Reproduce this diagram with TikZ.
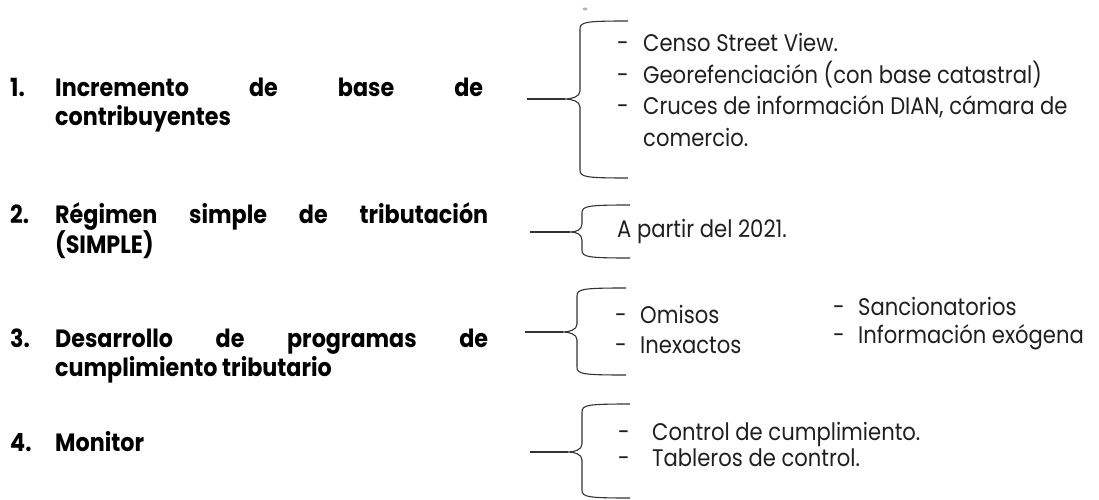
\documentclass[tikz,border=0pt]{standalone}
\usepackage{fontspec}
\setmainfont{Poppins}
\newfontfamily\leftfont[FakeStretch=0.89]{Poppins Bold}
\newfontfamily\rightfont[FakeStretch=0.88]{Poppins}
\begin{document}
\begin{tikzpicture}[x=1pt,y=-1pt,
  lefttxt/.style={anchor=base west,inner sep=0pt,font=\fontsize{25}{28}\leftfont,text=black},
  righttxt/.style={anchor=west,inner sep=0pt,text height=17pt,text depth=0pt,font=\fontsize{24}{28}\rightfont,text=black!88},
  bracepath/.style={draw=black!80,line width=1.1pt}]
\useasboundingbox (0,0) rectangle (1099,500);
\fill[black!30] (585,9) ellipse (2.5pt and 1.5pt);
% left column
\node[lefttxt] (n1) at (10,96) {1.};
\node[lefttxt] (t1a) at (55,96) {\makebox[428pt][s]{Incremento de base de}};
\node[lefttxt] (t1b) at (55,125) {contribuyentes};
\node[lefttxt] (n2) at (10,223) {2.};
\node[lefttxt] (t2a) at (55,223) {\makebox[433pt][s]{Régimen simple de tributación}};
\node[lefttxt] (t2b) at (55,253) {(SIMPLE)};
\node[lefttxt] (n3) at (10,347) {3.};
\node[lefttxt] (t3a) at (55,347) {\makebox[433pt][s]{Desarrollo de programas de}};
\node[lefttxt] (t3b) at (55,376) {cumplimiento tributario};
\node[lefttxt] (n4) at (10,451) {4.};
\node[lefttxt] (t4) at (55,451) {Monitor};
% braces: #1 left x, #2 tip x, #3 vertical x, #4 right x, #5 top y, #6 tip y, #7 bottom y
\newcommand{\mybrace}[8]{%
  \coordinate (#8L) at (#1,#6);
  \coordinate (#8T) at (#2,#6);
  \draw[bracepath] (#8L) -- (#8T);
  \draw[bracepath] (#4,#5) .. controls (#3+5,#5) and (#3,#5+1) .. (#3,#5+8)
     -- (#3,#6-8) .. controls (#3,#6-2) and (#2+6,#6) .. (#8T)
     .. controls (#2+6,#6) and (#3,#6+2) .. (#3,#6+8)
     -- (#3,#7-8) .. controls (#3,#7-1) and (#3+5,#7) .. (#4,#7);}
\mybrace{527}{565}{580}{628}{21}{99}{178}{b1}
\mybrace{530}{570}{582}{630}{205}{232}{258}{b2}
\mybrace{525}{563}{577}{626}{288}{332}{375}{b3}
\mybrace{530}{568}{582}{630}{404}{452}{498}{b4}
% brace 1 texts
\node[righttxt] (d1a) at (617,43) {-};
\node[righttxt] (r1a) at (643,43) {Censo Street View.};
\node[righttxt] (d1b) at (617,75) {-};
\node[righttxt] (r1b) at (643,75) {Georefenciación (con base catastral)};
\node[righttxt] (d1c) at (617,106) {-};
\node[righttxt] (r1c) at (643,106) {Cruces de información DIAN, cámara de};
\node[righttxt] (r1d) at (643,138) {comercio.};
% brace 2
\node[righttxt] (r2) at (617,229) {A partir del 2021.};
% brace 3
\node[righttxt] (d3a) at (615,315) {-};
\node[righttxt] (r3a) at (640,315) {Omisos};
\node[righttxt] (d3b) at (615,345) {-};
\node[righttxt] (r3b) at (640,345) {Inexactos};
\node[righttxt] (d3c) at (833,307) {-};
\node[righttxt] (r3c) at (858,307) {Sancionatorios};
\node[righttxt] (d3d) at (833,335) {-};
\node[righttxt] (r3d) at (858,335) {Información exógena};
% brace 4
\node[righttxt] (d4a) at (618,432) {-};
\node[righttxt] (r4a) at (652,432) {Control de cumplimiento.};
\node[righttxt] (d4b) at (618,458) {-};
\node[righttxt] (r4b) at (652,458) {Tableros de control.};
\end{tikzpicture}
\end{document}
